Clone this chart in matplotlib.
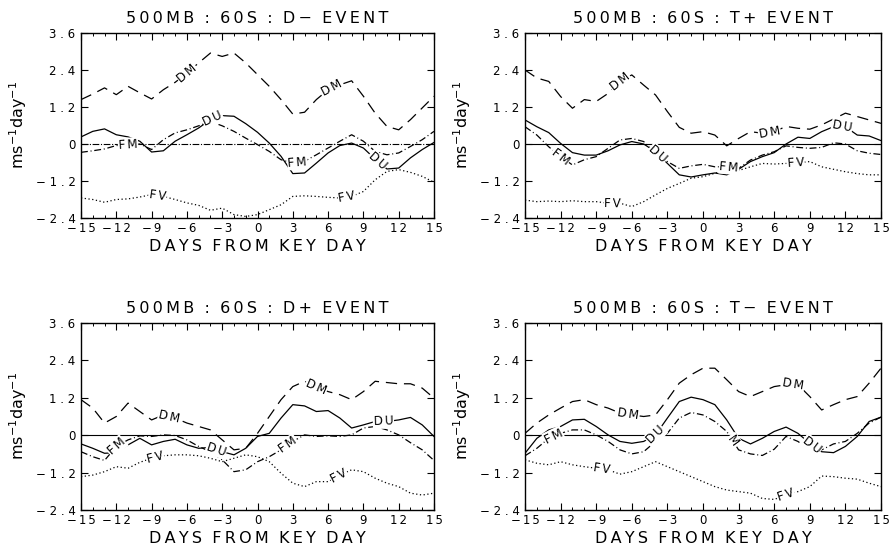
import numpy as np
import matplotlib
matplotlib.use("Agg")
import matplotlib.pyplot as plt
from matplotlib.ticker import MultipleLocator, FuncFormatter

days = np.arange(-15, 16)

# ---- D- event ----
dm_dminus = [1.44, 1.62, 1.82, 1.60, 1.87, 1.66, 1.46, 1.76, 2.00, 2.30, 2.63, 2.95, 2.84, 2.95, 2.63, 2.25,
             1.87, 1.44, 0.97, 1.03, 1.44, 1.76, 1.92, 2.05, 1.55, 1.00, 0.57, 0.46, 0.79, 1.17, 1.55]
du_dminus = [0.23, 0.41, 0.49, 0.30, 0.23, 0.09, -0.26, -0.22, 0.09, 0.30, 0.52, 0.79, 0.92, 0.90, 0.66, 0.38,
             0.03, -0.40, -0.96, -0.94, -0.62, -0.29, -0.05, 0.03, -0.13, -0.49, -0.81, -0.78, -0.45, -0.18, 0.05]
fm_dminus = [-0.27, -0.22, -0.16, -0.05, -0.03, 0.00, -0.18, 0.14, 0.36, 0.46, 0.59, 0.73, 0.59, 0.41, 0.19, -0.02,
             -0.24, -0.51, -0.62, -0.56, -0.35, -0.13, 0.09, 0.30, 0.09, -0.24, -0.35, -0.29, -0.08, 0.14, 0.41]
fv_dminus = [-1.75, -1.80, -1.89, -1.80, -1.78, -1.72, -1.64, -1.70, -1.80, -1.91, -1.99, -2.15, -2.08, -2.29, -2.35, -2.29,
             -2.13, -1.97, -1.70, -1.68, -1.70, -1.73, -1.75, -1.70, -1.54, -1.16, -0.89, -0.83, -0.92, -1.05, -1.24]

# ---- T+ event ----
dm_tplus = [2.40, 2.14, 2.03, 1.54, 1.16, 1.44, 1.38, 1.64, 2.03, 2.24, 1.91, 1.59, 1.05, 0.54, 0.35, 0.40,
            0.29, -0.06, 0.18, 0.40, 0.35, 0.40, 0.57, 0.51, 0.48, 0.62, 0.81, 1.00, 0.89, 0.78, 0.67]
du_tplus = [0.78, 0.56, 0.37, 0.02, -0.28, -0.36, -0.36, -0.22, -0.03, 0.08, 0.00, -0.25, -0.63, -1.00, -1.07, -1.00,
            -0.94, -1.00, -0.82, -0.57, -0.41, -0.28, 0.00, 0.22, 0.18, 0.40, 0.56, 0.56, 0.29, 0.26, 0.11]
fm_tplus = [0.56, 0.29, -0.09, -0.41, -0.68, -0.51, -0.41, -0.14, 0.13, 0.18, 0.08, -0.30, -0.57, -0.79, -0.71, -0.66,
            -0.74, -0.74, -0.79, -0.52, -0.36, -0.25, -0.06, -0.11, -0.14, -0.11, 0.04, 0.00, -0.22, -0.30, -0.34]
fv_tplus = [-1.82, -1.87, -1.85, -1.87, -1.84, -1.87, -1.87, -1.92, -1.92, -2.03, -1.87, -1.65, -1.44, -1.28, -1.11, -1.06,
            -0.95, -0.84, -0.86, -0.74, -0.63, -0.65, -0.63, -0.61, -0.57, -0.74, -0.82, -0.90, -0.96, -1.00, -1.00]

# ---- D+ event ----
dm_dplus = [1.14, 0.87, 0.39, 0.60, 1.03, 0.76, 0.49, 0.65, 0.55, 0.39, 0.28, 0.17, -0.15, -0.47, -0.42, 0.06,
            0.60, 1.14, 1.56, 1.73, 1.56, 1.40, 1.30, 1.14, 1.40, 1.73, 1.69, 1.65, 1.65, 1.51, 1.19]
du_dplus = [-0.28, -0.42, -0.58, -0.56, -0.31, -0.10, -0.31, -0.20, -0.13, -0.31, -0.42, -0.39, -0.53, -0.63, -0.42, -0.04,
            0.06, 0.55, 0.98, 0.94, 0.76, 0.79, 0.55, 0.23, 0.33, 0.44, 0.44, 0.49, 0.57, 0.33, -0.04]
fm_dplus = [-0.53, -0.69, -0.81, -0.36, -0.15, -0.02, -0.04, 0.01, -0.01, -0.15, -0.36, -0.53, -0.79, -1.17, -1.11, -0.85,
            -0.69, -0.47, -0.20, 0.01, -0.04, -0.02, -0.04, 0.01, 0.23, 0.28, 0.17, 0.01, -0.24, -0.47, -0.81]
fv_dplus = [-1.33, -1.28, -1.17, -1.01, -1.06, -0.87, -0.74, -0.66, -0.63, -0.63, -0.66, -0.74, -0.85, -0.74, -0.63, -0.69,
            -0.85, -1.22, -1.54, -1.65, -1.49, -1.49, -1.28, -1.11, -1.17, -1.38, -1.54, -1.65, -1.86, -1.92, -1.86]

# ---- T- event ----
dm_tminus = [0.06, 0.39, 0.65, 0.87, 1.08, 1.14, 0.98, 0.87, 0.71, 0.65, 0.60, 0.65, 1.14, 1.67, 1.94, 2.15,
             2.15, 1.78, 1.40, 1.24, 1.40, 1.56, 1.62, 1.62, 1.24, 0.81, 0.98, 1.14, 1.24, 1.67, 2.15]
du_tminus = [-0.58, -0.10, 0.17, 0.28, 0.49, 0.51, 0.28, 0.01, -0.20, -0.26, -0.20, 0.01, 0.55, 1.08, 1.22, 1.14,
             0.98, 0.49, -0.10, -0.28, -0.10, 0.12, 0.26, 0.06, -0.26, -0.53, -0.56, -0.36, -0.04, 0.44, 0.58]
fm_tminus = [-0.66, -0.42, -0.10, 0.06, 0.17, 0.17, 0.01, -0.20, -0.47, -0.60, -0.53, -0.20, 0.06, 0.55, 0.73, 0.65,
             0.44, 0.12, -0.47, -0.60, -0.65, -0.45, -0.04, -0.20, -0.47, -0.47, -0.28, -0.20, 0.06, 0.39, 0.58]
fv_tminus = [-0.79, -0.90, -0.95, -0.85, -0.95, -1.01, -1.06, -1.11, -1.25, -1.17, -1.01, -0.85, -1.01, -1.17, -1.33, -1.49,
             -1.65, -1.76, -1.81, -1.86, -2.03, -2.06, -1.92, -1.81, -1.65, -1.31, -1.33, -1.38, -1.41, -1.54, -1.65]

titles = ["500MB : 60S : D\u2212 EVENT", "500MB : 60S : T+ EVENT",
          "500MB : 60S : D+ EVENT", "500MB : 60S : T\u2212 EVENT"]
xlabel_text = "DAYS FROM KEY DAY"
ylabel_text = "ms$^{-1}$day$^{-1}$"

panels = [
    dict(data=[dm_dminus, du_dminus, fm_dminus, fv_dminus],
         labels=[("DM", 0, -6.0), ("DM", 0, 6.3), ("DU", 1, -3.8), ("FM", 2, -11.0),
                 ("FM", 2, 3.4), ("DU", 1, 10.2), ("FV", 3, -8.5), ("FV", 3, 7.6)]),
    dict(data=[dm_tplus, du_tplus, fm_tplus, fv_tplus],
         labels=[("DM", 0, -7.0), ("DM", 0, 5.6), ("DU", 1, 11.7), ("FM", 2, -12.0),
                 ("DU", 1, -3.8), ("FM", 2, 2.2), ("FV", 3, -7.6), ("FV", 3, 7.8)]),
    dict(data=[dm_dplus, du_dplus, fm_dplus, fv_dplus],
         labels=[("DM", 0, -7.5), ("DM", 0, 5.0), ("DU", 1, 10.7), ("FM", 2, -12.0),
                 ("DU", 1, -3.5), ("FM", 2, 2.6), ("FV", 3, -8.7), ("FV", 3, 6.9)]),
    dict(data=[dm_tminus, du_tminus, fm_tminus, fv_tminus],
         labels=[("DM", 0, -6.3), ("DM", 0, 7.6), ("DU", 1, -4.0), ("FM", 2, -12.6),
                 ("M", 2, 2.5), ("DU", 1, 9.2), ("FV", 3, -8.5), ("FV", 3, 7.0)]),
]

styles = [
    dict(linestyle=(0, (9, 5.5)), lw=0.9),             # DM long dash
    dict(linestyle="-", lw=0.9),                        # DU solid
    dict(linestyle=(0, (5.5, 2.2, 0.8, 2.2)), lw=0.9),  # FM dash-dot
    dict(linestyle=(0, (1.0, 2.0)), lw=0.9),            # FV dotted
]
zero_styles = [(0, (6, 1.5, 1, 1.5)), "-", "-", "-"]

# axes rectangles in figure fractions [left, bottom, width, height]
W, H = 889, 549
rects = [
    [81 / W, 1 - 218 / H, 353 / W, 185 / H],
    [525 / W, 1 - 218 / H, 356 / W, 185 / H],
    [81 / W, 1 - 510 / H, 353 / W, 187 / H],
    [525 / W, 1 - 510 / H, 356 / W, 187 / H],
]

plt.rcParams["font.family"] = "DejaVu Sans"

THIN = "\u2009"   # letter spacing for headings
SIX = "\u2006"    # narrower letter spacing for numbers


def spaced(s, sep=SIX):
    return sep.join(s)


def spaced_words(s, sep=THIN, gap=2):
    return (" " * gap).join(spaced(w, sep) for w in s.split(" "))


xfmt = FuncFormatter(lambda v, p: spaced("%d" % v).replace("-", "\u2212"))
yfmt = FuncFormatter(lambda v, p: ("0" if abs(v) < 1e-9 else spaced("%.1f" % v, " ")).replace("-", "\u2212"))

fig = plt.figure(figsize=(W / 100, H / 100), dpi=100)

for k, (panel, rect, title) in enumerate(zip(panels, rects, titles)):
    ax = fig.add_axes(rect)
    ax.set_xlim(-15, 15)
    ax.set_ylim(-2.4, 3.6)
    ax.axhline(0, color="black", lw=0.8, linestyle=zero_styles[k], zorder=1)
    for vals, st in zip(panel["data"], styles):
        ax.plot(days, vals, color="black", zorder=2, **st)

    ax.xaxis.set_major_locator(MultipleLocator(3))
    ax.xaxis.set_minor_locator(MultipleLocator(1))
    ax.yaxis.set_major_locator(MultipleLocator(1.2))
    ax.xaxis.set_major_formatter(xfmt)
    ax.yaxis.set_major_formatter(yfmt)
    ax.tick_params(which="both", direction="in", top=True, right=True, labelsize=8.5)
    ax.tick_params(axis="x", pad=3)
    ax.tick_params(axis="y", pad=4)
    ax.tick_params(which="major", length=5, width=0.8)
    ax.tick_params(which="minor", length=2.5, width=0.7)
    for sp in ax.spines.values():
        sp.set_linewidth(1.0)

    ax.set_title(spaced_words(title), fontsize=11.5, pad=7)
    ax.set_xlabel(spaced_words(xlabel_text), fontsize=11.5, labelpad=3)
    ax.set_ylabel(ylabel_text, fontsize=11.5)
    ax.yaxis.set_label_coords(-52 / 353, 0.5)

    # inline curve labels, rotated along the local slope
    for text, idx, d in panel["labels"]:
        vals = np.asarray(panel["data"][idx])
        y0 = np.interp(d, days, vals)
        p1 = ax.transData.transform((d - 0.6, np.interp(d - 0.6, days, vals)))
        p2 = ax.transData.transform((d + 0.6, np.interp(d + 0.6, days, vals)))
        ang = np.degrees(np.arctan2(p2[1] - p1[1], p2[0] - p1[0]))
        ax.text(d, y0, spaced(text), fontsize=8.5, rotation=ang, rotation_mode="anchor",
                ha="center", va="center", zorder=3,
                bbox=dict(facecolor="white", edgecolor="none", pad=0.6))

fig.savefig("out.png", dpi=100)
